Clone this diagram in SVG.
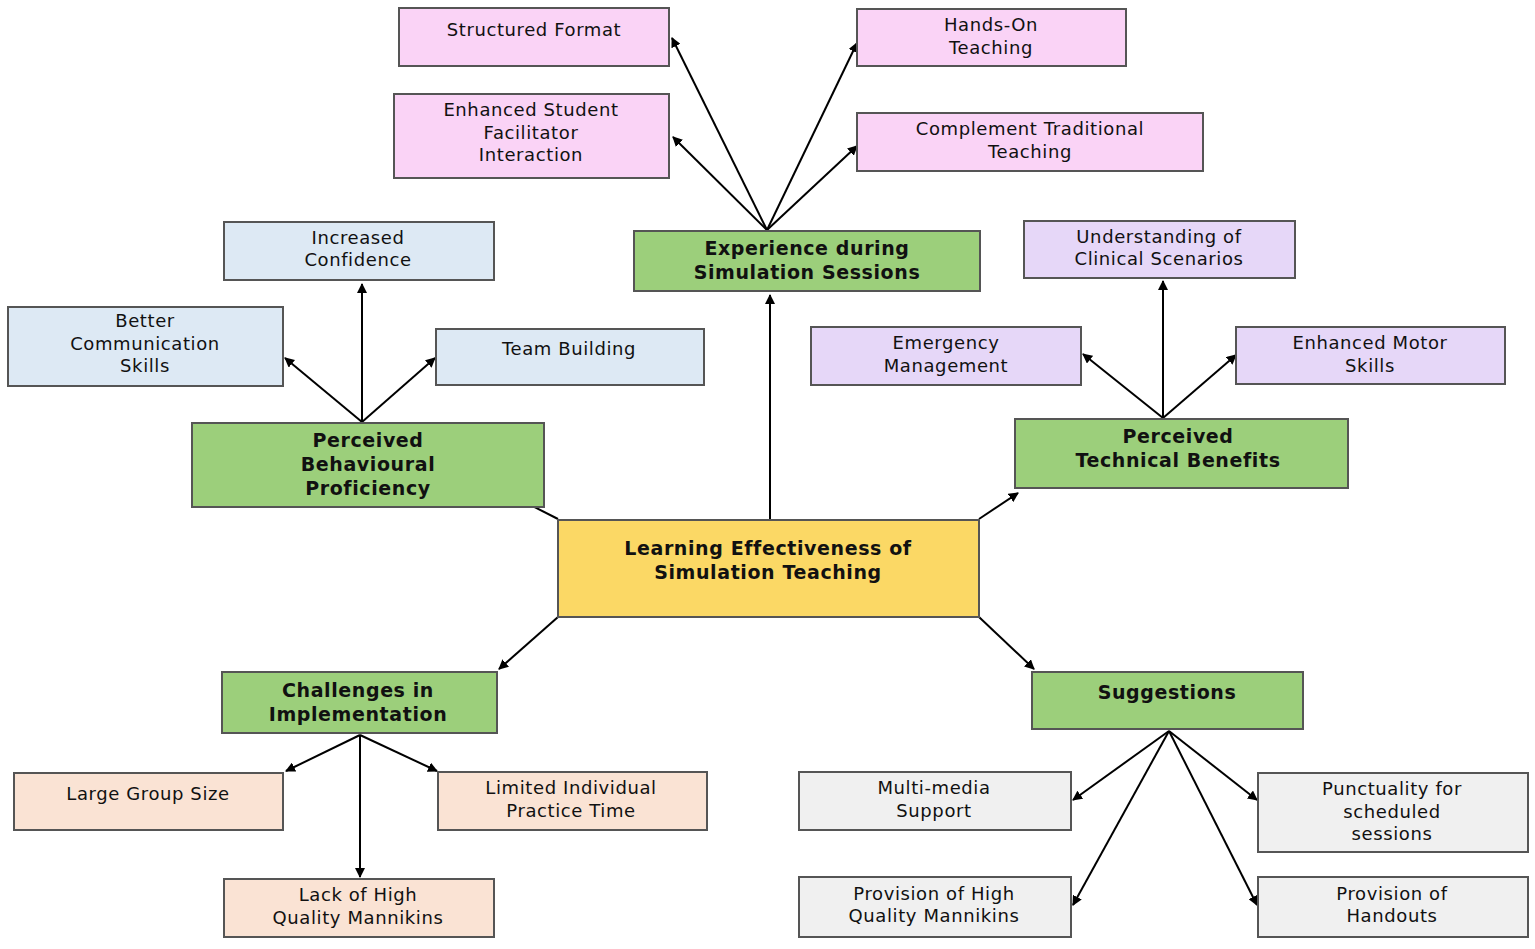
<svg xmlns="http://www.w3.org/2000/svg" width="1535" height="949" viewBox="0 0 1535 949">
<defs>
<marker id="ah" markerWidth="10" markerHeight="10" refX="9" refY="5" orient="auto" markerUnits="userSpaceOnUse"><path d="M0,0 L10,5 L0,10 z" fill="#000"/></marker>
<style>
rect{stroke:#555;stroke-width:2}
.pk{fill:#fad3f6}.bl{fill:#dde9f4}.lv{fill:#e6d7f8}.pc{fill:#fae3d4}.gy{fill:#f0f0f0}.gr{fill:#9ccf7b}.ye{fill:#fbd865}
text{font-family:"DejaVu Sans","Liberation Sans",sans-serif;font-size:18px;text-anchor:middle;fill:#111;letter-spacing:0.6px}
.b{font-weight:bold;font-size:19px}
#connectors line{stroke:#000;stroke-width:2;marker-end:url(#ah)}
</style>
</defs>
<rect width="1535" height="949" fill="#fff" style="stroke:none"/>
<g id="connectors">
<line x1="767" y1="230" x2="672" y2="38"/>
<line x1="767" y1="230" x2="857" y2="43"/>
<line x1="767" y1="230" x2="673" y2="137"/>
<line x1="767" y1="230" x2="857" y2="146"/>
<line x1="770" y1="519" x2="770" y2="295"/>
<line x1="558" y1="519" x2="499" y2="489"/>
<line x1="362" y1="422" x2="362" y2="284"/>
<line x1="362" y1="422" x2="285" y2="358"/>
<line x1="362" y1="422" x2="435" y2="358"/>
<line x1="979" y1="519" x2="1018" y2="493"/>
<line x1="1163" y1="418" x2="1163" y2="281"/>
<line x1="1163" y1="418" x2="1083" y2="354"/>
<line x1="1163" y1="418" x2="1236" y2="355"/>
<line x1="558" y1="617" x2="499" y2="669"/>
<line x1="979" y1="617" x2="1034" y2="669"/>
<line x1="360" y1="735" x2="286" y2="771"/>
<line x1="360" y1="735" x2="437" y2="771"/>
<line x1="360" y1="735" x2="360" y2="877"/>
<line x1="1169" y1="731" x2="1073" y2="800"/>
<line x1="1169" y1="731" x2="1257" y2="800"/>
<line x1="1169" y1="731" x2="1073" y2="905"/>
<line x1="1169" y1="731" x2="1257" y2="905"/>
</g>
<g id="n-structured"><rect class="pk" x="399" y="8" width="270" height="58"/><text x="534" y="36">Structured Format</text></g>
<g id="n-handson"><rect class="pk" x="857" y="9" width="269" height="57"/><text x="991" y="31">Hands-On</text><text x="991" y="54">Teaching</text></g>
<g id="n-enhanced"><rect class="pk" x="394" y="94" width="275" height="84"/><text x="531" y="116">Enhanced Student</text><text x="531" y="139">Facilitator</text><text x="531" y="161">Interaction</text></g>
<g id="n-complement"><rect class="pk" x="857" y="113" width="346" height="58"/><text x="1030" y="135">Complement Traditional</text><text x="1030" y="158">Teaching</text></g>
<g id="n-experience"><rect class="gr" x="634" y="231" width="346" height="60"/><text class="b" x="807" y="255">Experience during</text><text class="b" x="807" y="279">Simulation Sessions</text></g>
<g id="n-confidence"><rect class="bl" x="224" y="222" width="270" height="58"/><text x="358" y="244">Increased</text><text x="358" y="266">Confidence</text></g>
<g id="n-communication"><rect class="bl" x="8" y="307" width="275" height="79"/><text x="145" y="327">Better</text><text x="145" y="350">Communication</text><text x="145" y="372">Skills</text></g>
<g id="n-team"><rect class="bl" x="436" y="329" width="268" height="56"/><text x="569" y="355">Team Building</text></g>
<g id="n-behavioural"><rect class="gr" x="192" y="423" width="352" height="84"/><text class="b" x="368" y="447">Perceived</text><text class="b" x="368" y="471">Behavioural</text><text class="b" x="368" y="495">Proficiency</text></g>
<g id="n-understanding"><rect class="lv" x="1024" y="221" width="271" height="57"/><text x="1159" y="243">Understanding of</text><text x="1159" y="265">Clinical Scenarios</text></g>
<g id="n-emergency"><rect class="lv" x="811" y="327" width="270" height="58"/><text x="946" y="349">Emergency</text><text x="946" y="372">Management</text></g>
<g id="n-motor"><rect class="lv" x="1236" y="327" width="269" height="57"/><text x="1370" y="349">Enhanced Motor</text><text x="1370" y="372">Skills</text></g>
<g id="n-technical"><rect class="gr" x="1015" y="419" width="333" height="69"/><text class="b" x="1178" y="443">Perceived</text><text class="b" x="1178" y="467">Technical Benefits</text></g>
<g id="n-center"><rect class="ye" x="558" y="520" width="421" height="97"/><text class="b" x="768" y="555">Learning Effectiveness of</text><text class="b" x="768" y="579">Simulation Teaching</text></g>
<g id="n-challenges"><rect class="gr" x="222" y="672" width="275" height="61"/><text class="b" x="358" y="697">Challenges in</text><text class="b" x="358" y="721">Implementation</text></g>
<g id="n-suggestions"><rect class="gr" x="1032" y="672" width="271" height="57"/><text class="b" x="1167" y="699">Suggestions</text></g>
<g id="n-large"><rect class="pc" x="14" y="773" width="269" height="57"/><text x="148" y="800">Large Group Size</text></g>
<g id="n-limited"><rect class="pc" x="438" y="772" width="269" height="58"/><text x="571" y="794">Limited Individual</text><text x="571" y="817">Practice Time</text></g>
<g id="n-lack"><rect class="pc" x="224" y="879" width="270" height="58"/><text x="358" y="901">Lack of High</text><text x="358" y="924">Quality Mannikins</text></g>
<g id="n-multimedia"><rect class="gy" x="799" y="772" width="272" height="58"/><text x="934" y="794">Multi-media</text><text x="934" y="817">Support</text></g>
<g id="n-punctuality"><rect class="gy" x="1258" y="773" width="270" height="79"/><text x="1392" y="795">Punctuality for</text><text x="1392" y="818">scheduled</text><text x="1392" y="840">sessions</text></g>
<g id="n-provision"><rect class="gy" x="799" y="877" width="272" height="60"/><text x="934" y="900">Provision of High</text><text x="934" y="922">Quality Mannikins</text></g>
<g id="n-handouts"><rect class="gy" x="1258" y="877" width="270" height="60"/><text x="1392" y="900">Provision of</text><text x="1392" y="922">Handouts</text></g>
</svg>
